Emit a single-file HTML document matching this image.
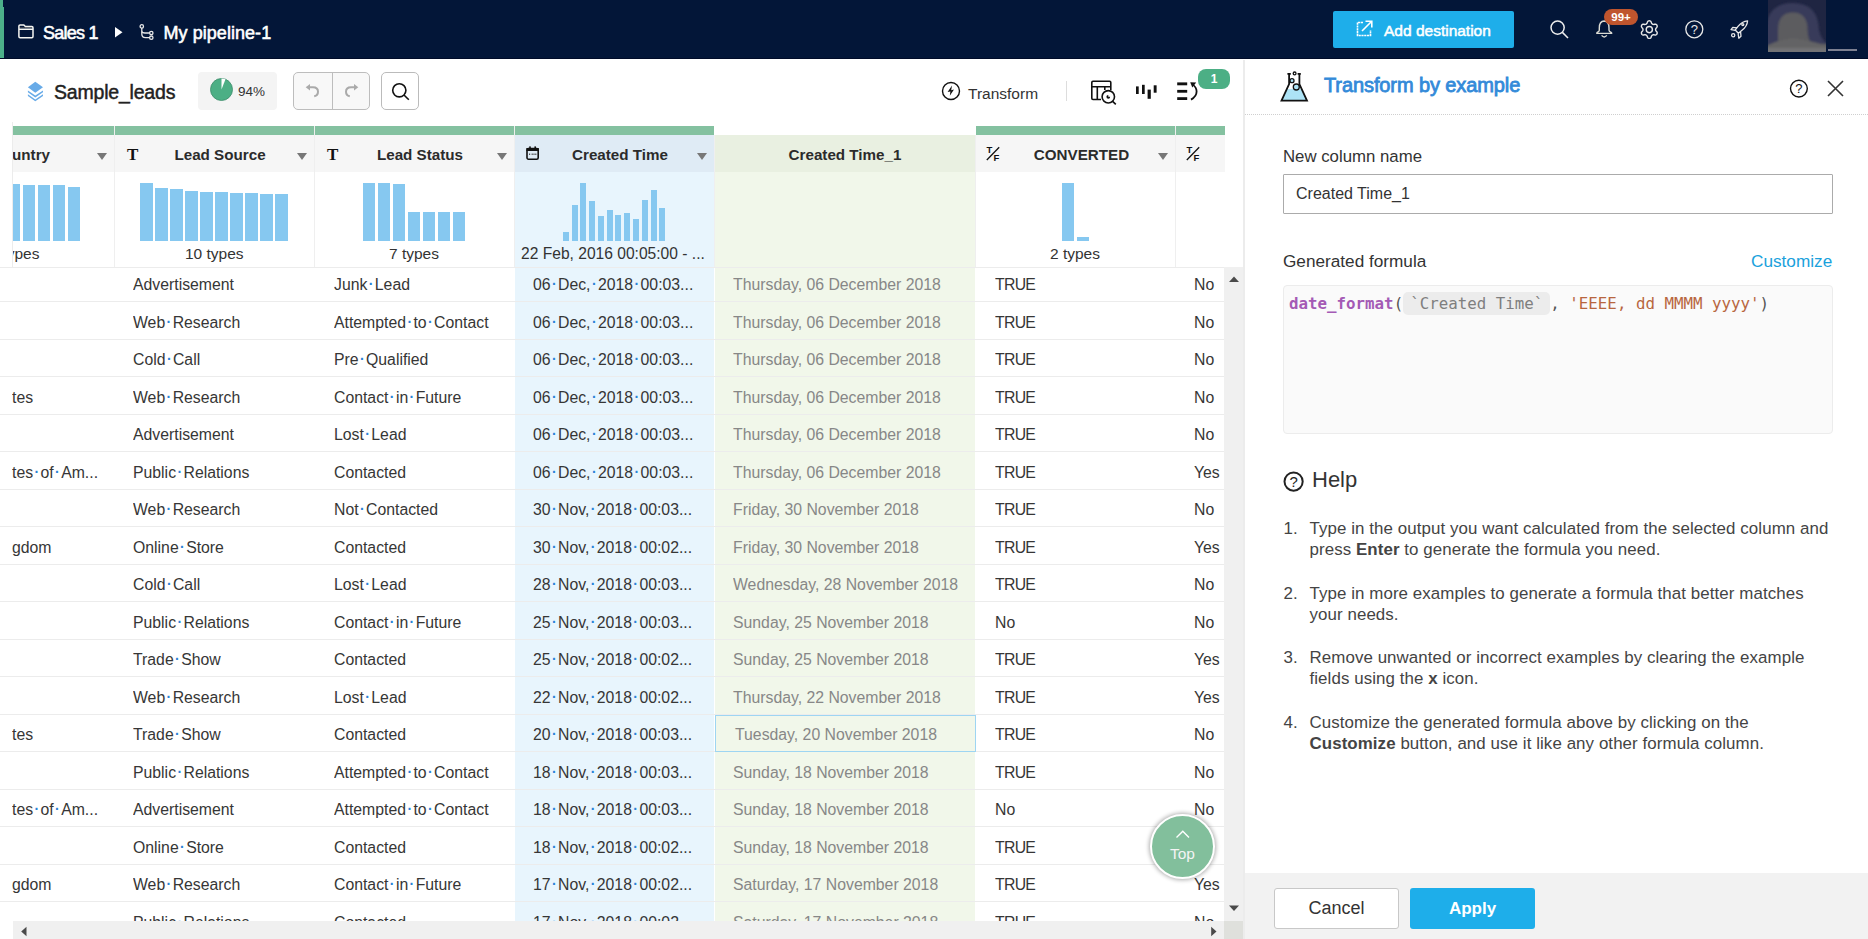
<!DOCTYPE html>
<html><head><meta charset="utf-8"><title>Transform by example</title>
<style>
*{box-sizing:border-box;margin:0;padding:0}
html,body{width:1868px;height:939px;overflow:hidden;background:#fff}
body{position:relative;font-family:"Liberation Sans",Arial,sans-serif;color:#333}
.abs{position:absolute}
svg{position:absolute;overflow:visible}
/* top bar */
#top{position:absolute;left:0;top:0;width:1868px;height:59px;background:#031638;border-bottom:1px solid #000b28}
#top .strip{position:absolute;left:0;top:0;width:4px;height:58px;background:#4cb08a}
#top .strip2{position:absolute;left:3px;top:0;width:1px;height:7px;background:#04163a}
.tt{position:absolute;color:#fff;font-weight:normal;-webkit-text-stroke:0.55px #fff;letter-spacing:-0.1px;font-size:18px;white-space:nowrap;line-height:20px}
#adddest{position:absolute;left:1333px;top:11px;width:181px;height:37px;background:#1eaeea;border-radius:2px}
#adddest span{position:absolute;left:51px;top:10.5px;font-size:15.5px;font-weight:normal;-webkit-text-stroke:0.5px #fff;color:#fff;line-height:18px;white-space:nowrap}
#badge99{position:absolute;left:1604px;top:9px;width:34px;height:16px;border-radius:8px;background:#bf552e;color:#fff;font-size:11.5px;font-weight:bold;text-align:center;line-height:16px}
#avline{position:absolute;left:1828px;top:49px;width:29px;height:2px;background:#7d8091}
/* toolbar */
.tbt{position:absolute;white-space:nowrap}
#title{left:54px;top:80px;letter-spacing:-0.2px;font-size:19.5px;font-weight:normal;-webkit-text-stroke:0.45px #222;color:#222;line-height:24px}
#prog{position:absolute;left:198px;top:72px;width:79px;height:38px;background:#f4f4f4;border-radius:4px}
#prog span{position:absolute;left:40px;top:12px;font-size:13.5px;color:#333;line-height:16px}
#undo{position:absolute;left:293px;top:72px;width:77px;height:38px;background:#f8f8f8;border:1px solid #bdbdbd;border-radius:5px}
#undo:after{content:"";position:absolute;left:38px;top:0;width:1px;height:36px;background:#bdbdbd}
#srch{position:absolute;left:381px;top:72px;width:38px;height:38px;background:#fff;border:1px solid #bbb;border-radius:5px}
#transform{left:968px;top:84.5px;font-size:15.5px;color:#333;line-height:18px}
#vdiv{position:absolute;left:1066px;top:81px;width:1px;height:20px;background:#ddd}
#badge1{position:absolute;left:1198px;top:69px;width:32px;height:20px;border-radius:8px;background:#4caf85;color:#fff;font-size:12px;font-weight:bold;text-align:center;line-height:20px}
/* table */
#grid{position:absolute;left:0;top:125px;width:1225px;height:814px;overflow:hidden}
.gbar{position:absolute;top:126px;height:9px;background:#84c1a0}
.hcell{position:absolute;top:135px;height:37px;background:#f6f6f6}
.hname{position:absolute;top:145px;text-align:center;font-size:15.2px;font-weight:bold;color:#2b2b2b;line-height:20px;white-space:nowrap}
.tri{position:absolute;top:153px;width:0;height:0;border-left:5.7px solid transparent;border-right:5.7px solid transparent;border-top:7.2px solid #777}
.hist{position:absolute;top:172px;height:95px;background:#fff}
.vsep{position:absolute;top:126px;width:1px;height:141px;background:#efefef}
.bar{position:absolute;background:#86c8f0}
.types{position:absolute;top:245px;font-size:15.5px;color:#333;line-height:18px;white-space:nowrap;text-align:center}
#body{position:absolute;left:0;top:267px;width:1224px;height:654px;overflow:hidden}
.row{position:absolute;left:0;width:1224px;height:37.5px;border-bottom:1px solid #ececec}
.c{position:absolute;top:0;height:37.5px;line-height:37.5px;padding-top:1.8px;font-size:15.8px;color:#363636;white-space:nowrap;overflow:hidden}
.c i.d{font-style:normal;color:#2a82d6;font-size:14px;font-weight:bold;position:relative;top:-1px;padding:0 1.4px}
.c b.t{font-weight:normal;letter-spacing:-0.7px}
.cA{left:12px;width:102px}
.cB{left:133px;width:181px}
.cC{left:334px;width:180px}
.cD{left:533px;width:181px}
.cE{left:733px;width:242px;color:#878787}
.cF{left:995px;width:180px}
.cG{left:1194px;width:30px}
.sel{left:715px;top:0;width:261px;border:1px solid #9ed5f2;padding-left:19px;line-height:35.5px;padding-top:1px}
</style></head>
<body>
<!-- ============ TOP BAR ============ -->
<div id="top">
  <div class="strip"></div><div class="strip2"></div>
  <svg style="left:18px;top:24.3px" width="16" height="15" viewBox="0 0 16 15"><path d="M1.5 4 H14.5 V3.4 H1.5 Z" fill="#555"/><path d="M0.9 2.1 Q0.9 0.9 2.1 0.9 H5.8 L7.4 2.5 H13.9 Q15 2.5 15 3.7 V12.6 Q15 13.8 13.8 13.8 H2.1 Q0.9 13.8 0.9 12.6 Z M0.9 5.2 H15" fill="none" stroke="#f6f6f2" stroke-width="1.5"/></svg>
  <div class="tt" style="left:43px;top:23px;letter-spacing:-0.75px">Sales 1</div>
  <svg style="left:115px;top:27px" width="8" height="11" viewBox="0 0 8 11"><path d="M0 0 L7.5 5.2 L0 10.5 Z" fill="#fff"/></svg>
  <svg style="left:138.5px;top:24px" width="15" height="16" viewBox="0 0 15 16"><g fill="none" stroke="#e8e8e8" stroke-width="1.3"><circle cx="2.8" cy="2.4" r="1.7"/><path d="M2.8 4.1 V10 Q2.8 13.7 6.5 13.7 H10.6"/><path d="M2.8 7.5 Q3.2 9 6 9 H10.6"/><circle cx="12.3" cy="9" r="1.7"/><circle cx="12.3" cy="13.7" r="1.7"/></g></svg>
  <div class="tt" style="left:163.5px;top:23px;letter-spacing:0.05px">My pipeline-1</div>

  <div id="adddest">
    <svg style="left:23px;top:9px" width="17" height="17" viewBox="0 0 17 17"><g fill="none" stroke="#fff" stroke-width="1.6"><path d="M7 2.5 H1.5 V15.5 H14.5 V10" stroke-dasharray="2.2 0.6"/><path d="M6 11 L15.5 1.5 M9.5 1.2 H15.8 V7.5"/></g></svg>
    <span>Add destination</span>
  </div>
  <svg style="left:1550px;top:20px" width="19" height="19" viewBox="0 0 19 19"><g fill="none" stroke="#eee" stroke-width="1.5"><circle cx="7.6" cy="7.6" r="6.6"/><path d="M12.4 12.4 L18 18"/></g></svg>
  <svg style="left:1596px;top:20px" width="17" height="19" viewBox="0 0 17 19"><g fill="none" stroke="#dcdcd4" stroke-width="1.4"><path d="M3.3 8 Q3.3 1.2 8.2 1 Q13 1.2 13 8 V10.2 Q13 11.3 15.1 12.4 Q16 13 15.6 13.4 H0.9 Q0.5 13 1.3 12.4 Q3.3 11.3 3.3 10.2 Z"/><path d="M5.6 15.4 Q8.2 18.5 10.8 15.4"/></g></svg>
  <div id="badge99">99+</div>
  <svg style="left:1640px;top:20px" width="19" height="19" viewBox="0 0 19 19"><g fill="none" stroke="#e8e8e8" stroke-width="1.4"><path d="M9.30 0.80 L9.87 0.88 L10.42 1.11 L10.91 1.51 L11.25 2.31 L11.50 3.12 L11.80 3.56 L12.11 3.90 L12.45 4.14 L12.83 4.31 L13.28 4.42 L13.81 4.45 L14.64 4.26 L15.50 4.16 L16.10 4.39 L16.57 4.74 L16.92 5.20 L17.14 5.73 L17.21 6.32 L17.11 6.95 L16.59 7.65 L16.02 8.26 L15.78 8.75 L15.64 9.18 L15.60 9.60 L15.64 10.02 L15.78 10.45 L16.02 10.94 L16.59 11.55 L17.11 12.25 L17.21 12.88 L17.14 13.47 L16.92 14.00 L16.57 14.46 L16.10 14.81 L15.50 15.04 L14.64 14.94 L13.81 14.75 L13.28 14.78 L12.83 14.89 L12.45 15.06 L12.11 15.30 L11.80 15.64 L11.50 16.08 L11.25 16.89 L10.91 17.69 L10.42 18.09 L9.87 18.32 L9.30 18.40 L8.73 18.32 L8.18 18.09 L7.69 17.69 L7.35 16.89 L7.10 16.08 L6.80 15.64 L6.49 15.30 L6.15 15.06 L5.77 14.89 L5.32 14.78 L4.79 14.75 L3.96 14.94 L3.10 15.04 L2.50 14.81 L2.03 14.46 L1.68 14.00 L1.46 13.47 L1.39 12.88 L1.49 12.25 L2.01 11.55 L2.58 10.94 L2.82 10.45 L2.96 10.02 L3.00 9.60 L2.96 9.18 L2.82 8.75 L2.58 8.26 L2.01 7.65 L1.49 6.95 L1.39 6.32 L1.46 5.73 L1.68 5.20 L2.03 4.74 L2.50 4.39 L3.10 4.16 L3.96 4.26 L4.79 4.45 L5.32 4.42 L5.77 4.31 L6.15 4.14 L6.49 3.90 L6.80 3.56 L7.10 3.12 L7.35 2.31 L7.69 1.51 L8.18 1.11 L8.73 0.88 Z" stroke-linejoin="round"/><circle cx="9.3" cy="9.6" r="3.1"/></g></svg>
  <svg style="left:1685px;top:20px" width="19" height="19" viewBox="0 0 19 19"><circle cx="9.3" cy="9.3" r="8.5" fill="none" stroke="#e8e8e8" stroke-width="1.3"/><text x="9.3" y="14" text-anchor="middle" font-family="Liberation Sans" font-size="13" fill="#e8e8e8">?</text></svg>
  <svg style="left:1730px;top:20px" width="19" height="19" viewBox="0 0 19 19"><g fill="none" stroke="#e8e8e8" stroke-width="1.3" stroke-linejoin="round"><path d="M17.6 0.8 Q12 1.2 8 6.4 L5.2 10 L8.4 13.3 L12 10.3 Q17.2 6.4 17.6 0.8 Z"/><path d="M7 7.8 L2.8 7.4 L1 9.6 L5.4 10.4"/><path d="M10.6 12 L11 16.3 L8.8 18.2 L8.1 13.6"/><circle cx="12.8" cy="4.6" r="1"/><circle cx="3.2" cy="15.2" r="1.6"/></g></svg>
  <svg style="left:1768px;top:0" width="58" height="52" viewBox="0 0 58 52"><defs><filter id="bl" x="-10%" y="-10%" width="120%" height="120%"><feGaussianBlur stdDeviation="1.2"/></filter><clipPath id="avc"><rect width="58" height="52"/></clipPath></defs><rect width="58" height="52" fill="#1f2542"/><g clip-path="url(#avc)" filter="url(#bl)"><path d="M-2 54 V30 Q-1 3 24.8 3 Q50 3 51 30 Q53 40 60 44 V54 Z" fill="#393b5a"/><path d="M10 54 V30 Q10 12.5 24.8 12.5 Q39.6 12.5 39.6 30 Q40 40 44 44 H60 V54 Z" fill="#5b5b5f"/><path d="M-2 54 V46 Q10 40 24.8 38 Q40 40 60 46 V54 Z" fill="#636365"/><rect x="-2" y="48" width="62" height="6" fill="#727274"/></g></svg>
  <div id="avline"></div>
</div>

<!-- ============ TOOLBAR ============ -->
<svg style="left:27px;top:81px" width="17" height="21" viewBox="0 0 17 21"><g fill="#68abe8"><path d="M8.3 0.7 L16 6.3 L8.3 11.8 L0.9 6.3 Z"/><path d="M0.9 9.4 L8.3 14.6 L16 9.4 L16 11.2 L8.3 16.4 L0.9 11.2 Z"/><path d="M0.9 13.3 L8.3 18.5 L16 13.3 L16 15.1 L8.3 20.3 L0.9 15.1 Z"/></g></svg>
<div class="tbt" id="title">Sample_leads</div>
<div id="prog">
  <svg style="left:12px;top:6px" width="23" height="23" viewBox="0 0 23 23"><circle cx="11.5" cy="11.5" r="11" fill="#4caf85" stroke="#3d8d6b" stroke-width="0.8"/><path d="M11.5 11.5 L11.5 0.5 A11 11 0 0 1 15.5 1.25 Z" fill="#fff"/></svg>
  <span>94%</span>
</div>
<div id="undo">
  <svg style="left:11px;top:11px" width="16" height="14" viewBox="0 0 16 14"><g fill="none" stroke="#aaa" stroke-width="2"><path d="M3.5 3.2 H8 Q13 3.2 13 7.7 Q13 11.4 9.2 12.3"/></g><path d="M0.7 3.2 L5 0 L5 6.4 Z" fill="#aaa"/></svg>
  <svg style="left:49px;top:11px" width="16" height="14" viewBox="0 0 16 14"><g fill="none" stroke="#aaa" stroke-width="2"><path d="M12.5 3.2 H8 Q3 3.2 3 7.7 Q3 11.4 6.8 12.3"/></g><path d="M15.3 3.2 L11 0 L11 6.4 Z" fill="#aaa"/></svg>
</div>
<div id="srch">
  <svg style="left:9px;top:9px" width="19" height="19" viewBox="0 0 19 19"><g fill="none" stroke="#111" stroke-width="1.6"><circle cx="8.3" cy="8.3" r="6.6"/><path d="M13 13 L17.8 17.8"/></g></svg>
</div>
<svg style="left:941px;top:81px" width="20" height="20" viewBox="0 0 20 20"><circle cx="10" cy="10" r="8.5" fill="none" stroke="#111" stroke-width="1.4"/><path d="M11 4.6 L6.6 11 L9.4 10.4 L8.8 14.8 L13 8.6 L10.2 9.2 Z" fill="#111"/></svg>
<div class="tbt" id="transform">Transform</div>
<div id="vdiv"></div>
<svg style="left:1090px;top:80px" width="28" height="26" viewBox="0 0 28 26"><g fill="none" stroke="#111" stroke-width="1.6"><path d="M11 19.5 H3 Q1.8 19.5 1.8 18.3 V2.4 Q1.8 1.2 3 1.2 H19.6 Q20.8 1.2 20.8 2.4 V10"/><path d="M1.8 6.7 H20.8 M7.3 6.7 V19.5 M14.8 6.7 V10"/><circle cx="18.3" cy="16.8" r="6.2"/><path d="M22.6 21.3 L25.8 24.3"/></g><path d="M18.3 14.9 A1.9 1.9 0 1 0 20.2 16.8 L18.3 16.8 Z" fill="#111"/></svg>
<svg style="left:1135px;top:84px" width="23" height="16" viewBox="0 0 23 16"><g fill="#111"><rect x="1" y="2.4" width="2.7" height="7.6"/><rect x="7" y="0.8" width="2.7" height="9.2"/><rect x="12.6" y="5.6" width="3.2" height="9.2"/><rect x="18.7" y="1.3" width="2.9" height="7.4"/></g></svg>
<svg style="left:1176px;top:81px" width="23" height="21" viewBox="0 0 23 21"><g fill="#111"><rect x="1.2" y="1.4" width="10" height="2.9"/><rect x="1.2" y="8.9" width="10" height="2.8"/><rect x="1.2" y="16.2" width="10" height="2.8"/></g><path d="M15 18.6 Q20.6 15.4 20.6 10.5 Q20.6 6.4 16.8 3.6" fill="none" stroke="#111" stroke-width="1.8"/><path d="M14.2 1.2 L20.2 1.5 L16.3 6.6 Z" fill="#111"/></svg>
<div id="badge1">1</div>

<!-- ============ GRID HEADER ============ -->
<div style="position:absolute;left:12px;top:122px;width:1px;height:145px;background:#ececec"></div>
<div class="gbar" style="left:13px;width:101px"></div>
<div class="gbar" style="left:115px;width:199px"></div>
<div class="gbar" style="left:315px;width:199px"></div>
<div class="gbar" style="left:515px;width:199px"></div>
<div class="gbar" style="left:976px;width:199px"></div>
<div class="gbar" style="left:1176px;width:49px"></div>

<div class="hcell" style="left:13px;width:101px"></div>
<div class="hcell" style="left:115px;width:199px"></div>
<div class="hcell" style="left:315px;width:199px"></div>
<div class="hcell" style="left:515px;width:199px;background:#dfebf5"></div>
<div class="hcell" style="left:715px;width:260px;background:#e9f0e1"></div>
<div class="hcell" style="left:976px;width:199px"></div>
<div class="hcell" style="left:1176px;width:49px"></div>

<div class="hist" style="left:13px;width:101px"></div>
<div class="hist" style="left:115px;width:199px"></div>
<div class="hist" style="left:315px;width:199px"></div>
<div class="hist" style="left:515px;width:199px;background:#e8f5fd"></div>
<div class="hist" style="left:715px;width:260px;background:#f1f7ea"></div>
<div class="hist" style="left:976px;width:199px"></div>
<div class="hist" style="left:1176px;width:49px"></div>

<div class="vsep" style="left:114px"></div>
<div class="vsep" style="left:314px"></div>
<div class="vsep" style="left:514px"></div>
<div class="vsep" style="left:714px;top:135px;height:132px"></div>
<div class="vsep" style="left:975px;top:135px;height:132px"></div>
<div class="vsep" style="left:1175px"></div>
<div style="position:absolute;left:0;top:267px;width:1224px;height:1px;background:#ececec"></div>

<div style="position:absolute;left:13px;top:135px;width:101px;height:132px;overflow:hidden">
  <div class="hname" style="right:64px;top:10px;text-align:right">Country</div>
  <div class="types" style="right:74.5px;top:110px;text-align:right">6 types</div>
  <div class="bar" style="left:-5px;top:49.2px;width:12px;height:56.5px"></div>
  <div class="bar" style="left:10px;top:50.2px;width:12px;height:55.5px"></div>
  <div class="bar" style="left:25px;top:50.2px;width:12px;height:55.5px"></div>
  <div class="bar" style="left:40px;top:50.2px;width:12px;height:55.5px"></div>
  <div class="bar" style="left:55px;top:52.1px;width:12px;height:53.6px"></div>
</div>
<div class="tri" style="left:97px"></div>

<svg style="left:127px;top:148px" width="12" height="13" viewBox="0 0 12 13"><text x="0" y="12" font-family="Liberation Serif" font-weight="bold" font-size="17" fill="#111">T</text></svg>
<div class="hname" style="left:120px;width:200px">Lead Source</div>
<div class="tri" style="left:297px"></div>
<svg style="left:327px;top:148px" width="12" height="13" viewBox="0 0 12 13"><text x="0" y="12" font-family="Liberation Serif" font-weight="bold" font-size="17" fill="#111">T</text></svg>
<div class="hname" style="left:320px;width:200px">Lead Status</div>
<div class="tri" style="left:497px"></div>
<svg style="left:526px;top:146px" width="14" height="15" viewBox="0 0 14 15"><g fill="none" stroke="#111"><rect x="1" y="2.6" width="11.2" height="10.6" rx="1.4" stroke-width="1.6"/></g><rect x="0.4" y="2" width="12.4" height="3" fill="#111"/><rect x="3.2" y="0.4" width="1.6" height="3" fill="#111"/><rect x="8.4" y="0.4" width="1.6" height="3" fill="#111"/><g fill="#333"><rect x="3" y="7.6" width="1.2" height="1.2"/><rect x="5.6" y="7.6" width="1.2" height="1.2"/><rect x="7.4" y="7.6" width="1.2" height="1.2"/><rect x="9.2" y="7.6" width="1.2" height="1.2"/></g></svg>
<div class="hname" style="left:520px;width:200px">Created Time</div>
<div class="tri" style="left:697px"></div>
<div class="hname" style="left:715px;width:260px">Created Time_1</div>
<svg style="left:986px;top:146px" width="16" height="16" viewBox="0 0 16 16"><g fill="#111"><text x="0.6" y="7.4" font-family="Liberation Sans" font-weight="bold" font-size="9.5">T</text><text x="7.6" y="14.6" font-family="Liberation Sans" font-weight="bold" font-size="9.5">F</text></g><path d="M0.8 14 L13.2 1.2" stroke="#111" stroke-width="1.3"/></svg>
<div class="hname" style="left:981.5px;width:200px">CONVERTED</div>
<div class="tri" style="left:1158px"></div>
<svg style="left:1186px;top:146px" width="16" height="16" viewBox="0 0 16 16"><g fill="#111"><text x="0.6" y="7.4" font-family="Liberation Sans" font-weight="bold" font-size="9.5">T</text><text x="7.6" y="14.6" font-family="Liberation Sans" font-weight="bold" font-size="9.5">F</text></g><path d="M0.8 14 L13.2 1.2" stroke="#111" stroke-width="1.3"/></svg>

<div class="bar" style="left:140px;top:183.2px;width:12.5px;height:57.5px"></div><div class="bar" style="left:155px;top:188px;width:12.5px;height:52.69999999999999px"></div><div class="bar" style="left:170px;top:189px;width:12.5px;height:51.69999999999999px"></div><div class="bar" style="left:185px;top:191px;width:12.5px;height:49.69999999999999px"></div><div class="bar" style="left:200px;top:192px;width:12.5px;height:48.69999999999999px"></div><div class="bar" style="left:215px;top:192px;width:12.5px;height:48.69999999999999px"></div><div class="bar" style="left:230px;top:193px;width:12.5px;height:47.69999999999999px"></div><div class="bar" style="left:245px;top:193px;width:12.5px;height:47.69999999999999px"></div><div class="bar" style="left:260px;top:194px;width:12.5px;height:46.69999999999999px"></div><div class="bar" style="left:275px;top:194px;width:12.5px;height:46.69999999999999px"></div><div class="bar" style="left:363.3px;top:183.2px;width:12px;height:57.5px"></div><div class="bar" style="left:378.3px;top:183.2px;width:12px;height:57.5px"></div><div class="bar" style="left:393.3px;top:184px;width:12px;height:56.69999999999999px"></div><div class="bar" style="left:408.3px;top:211.9px;width:12px;height:28.799999999999983px"></div><div class="bar" style="left:423.3px;top:211.9px;width:12px;height:28.799999999999983px"></div><div class="bar" style="left:438.3px;top:211.9px;width:12px;height:28.799999999999983px"></div><div class="bar" style="left:453.3px;top:211.9px;width:12px;height:28.799999999999983px"></div><div class="bar" style="left:563px;top:232px;width:6px;height:8.699999999999989px"></div><div class="bar" style="left:571.9px;top:204.7px;width:6px;height:36.0px"></div><div class="bar" style="left:580.4px;top:183px;width:6px;height:57.69999999999999px"></div><div class="bar" style="left:589px;top:201px;width:6px;height:39.69999999999999px"></div><div class="bar" style="left:597.9px;top:216px;width:6px;height:24.69999999999999px"></div><div class="bar" style="left:606.8px;top:210px;width:6px;height:30.69999999999999px"></div><div class="bar" style="left:615.4px;top:215px;width:6px;height:25.69999999999999px"></div><div class="bar" style="left:624px;top:212.9px;width:6px;height:27.799999999999983px"></div><div class="bar" style="left:633px;top:218.9px;width:6px;height:21.799999999999983px"></div><div class="bar" style="left:642px;top:199.7px;width:6px;height:41.0px"></div><div class="bar" style="left:650.6px;top:189.8px;width:6px;height:50.89999999999998px"></div><div class="bar" style="left:659px;top:207.9px;width:6px;height:32.79999999999998px"></div><div class="bar" style="left:1062px;top:183px;width:12px;height:57.7px"></div><div class="bar" style="left:1077px;top:237px;width:12px;height:3.7px"></div>
<div class="types" style="left:185px">10 types</div>
<div class="types" style="left:389px">7 types</div>
<div class="types" style="left:521px;font-size:15.6px">22 Feb, 2016 00:05:00 - ...</div>
<div class="types" style="left:1050px">2 types</div>

<!-- ============ GRID BODY ============ -->
<div style="position:absolute;left:515px;top:268px;width:199px;height:653px;background:#e8f5fd"></div>
<div style="position:absolute;left:715px;top:268px;width:260px;height:653px;background:#f1f7ea"></div>
<div id="body"><div style="position:absolute;left:0;top:-267px;width:1224px;height:1200px">
<div class="row" style="top:264.5px">
<div class="c cA"></div>
<div class="c cB">Advertisement</div>
<div class="c cC">Junk<i class="d">·</i>Lead</div>
<div class="c cD">06<i class="d">·</i>Dec,<i class="d">·</i>2018<i class="d">·</i>00:03...</div>
<div class="c cE">Thursday, 06 December 2018</div>
<div class="c cF"><b class=t>TRUE</b></div>
<div class="c cG">No</div>
</div>
<div class="row" style="top:302.0px">
<div class="c cA"></div>
<div class="c cB">Web<i class="d">·</i>Research</div>
<div class="c cC">Attempted<i class="d">·</i>to<i class="d">·</i>Contact</div>
<div class="c cD">06<i class="d">·</i>Dec,<i class="d">·</i>2018<i class="d">·</i>00:03...</div>
<div class="c cE">Thursday, 06 December 2018</div>
<div class="c cF"><b class=t>TRUE</b></div>
<div class="c cG">No</div>
</div>
<div class="row" style="top:339.5px">
<div class="c cA"></div>
<div class="c cB">Cold<i class="d">·</i>Call</div>
<div class="c cC">Pre<i class="d">·</i>Qualified</div>
<div class="c cD">06<i class="d">·</i>Dec,<i class="d">·</i>2018<i class="d">·</i>00:03...</div>
<div class="c cE">Thursday, 06 December 2018</div>
<div class="c cF"><b class=t>TRUE</b></div>
<div class="c cG">No</div>
</div>
<div class="row" style="top:377.0px">
<div class="c cA">tes</div>
<div class="c cB">Web<i class="d">·</i>Research</div>
<div class="c cC">Contact<i class="d">·</i>in<i class="d">·</i>Future</div>
<div class="c cD">06<i class="d">·</i>Dec,<i class="d">·</i>2018<i class="d">·</i>00:03...</div>
<div class="c cE">Thursday, 06 December 2018</div>
<div class="c cF"><b class=t>TRUE</b></div>
<div class="c cG">No</div>
</div>
<div class="row" style="top:414.5px">
<div class="c cA"></div>
<div class="c cB">Advertisement</div>
<div class="c cC">Lost<i class="d">·</i>Lead</div>
<div class="c cD">06<i class="d">·</i>Dec,<i class="d">·</i>2018<i class="d">·</i>00:03...</div>
<div class="c cE">Thursday, 06 December 2018</div>
<div class="c cF"><b class=t>TRUE</b></div>
<div class="c cG">No</div>
</div>
<div class="row" style="top:452.0px">
<div class="c cA">tes<i class="d">·</i>of<i class="d">·</i>Am...</div>
<div class="c cB">Public<i class="d">·</i>Relations</div>
<div class="c cC">Contacted</div>
<div class="c cD">06<i class="d">·</i>Dec,<i class="d">·</i>2018<i class="d">·</i>00:03...</div>
<div class="c cE">Thursday, 06 December 2018</div>
<div class="c cF"><b class=t>TRUE</b></div>
<div class="c cG">Yes</div>
</div>
<div class="row" style="top:489.5px">
<div class="c cA"></div>
<div class="c cB">Web<i class="d">·</i>Research</div>
<div class="c cC">Not<i class="d">·</i>Contacted</div>
<div class="c cD">30<i class="d">·</i>Nov,<i class="d">·</i>2018<i class="d">·</i>00:03...</div>
<div class="c cE">Friday, 30 November 2018</div>
<div class="c cF"><b class=t>TRUE</b></div>
<div class="c cG">No</div>
</div>
<div class="row" style="top:527.0px">
<div class="c cA">gdom</div>
<div class="c cB">Online<i class="d">·</i>Store</div>
<div class="c cC">Contacted</div>
<div class="c cD">30<i class="d">·</i>Nov,<i class="d">·</i>2018<i class="d">·</i>00:02...</div>
<div class="c cE">Friday, 30 November 2018</div>
<div class="c cF"><b class=t>TRUE</b></div>
<div class="c cG">Yes</div>
</div>
<div class="row" style="top:564.5px">
<div class="c cA"></div>
<div class="c cB">Cold<i class="d">·</i>Call</div>
<div class="c cC">Lost<i class="d">·</i>Lead</div>
<div class="c cD">28<i class="d">·</i>Nov,<i class="d">·</i>2018<i class="d">·</i>00:03...</div>
<div class="c cE">Wednesday, 28 November 2018</div>
<div class="c cF"><b class=t>TRUE</b></div>
<div class="c cG">No</div>
</div>
<div class="row" style="top:602.0px">
<div class="c cA"></div>
<div class="c cB">Public<i class="d">·</i>Relations</div>
<div class="c cC">Contact<i class="d">·</i>in<i class="d">·</i>Future</div>
<div class="c cD">25<i class="d">·</i>Nov,<i class="d">·</i>2018<i class="d">·</i>00:03...</div>
<div class="c cE">Sunday, 25 November 2018</div>
<div class="c cF">No</div>
<div class="c cG">No</div>
</div>
<div class="row" style="top:639.5px">
<div class="c cA"></div>
<div class="c cB">Trade<i class="d">·</i>Show</div>
<div class="c cC">Contacted</div>
<div class="c cD">25<i class="d">·</i>Nov,<i class="d">·</i>2018<i class="d">·</i>00:02...</div>
<div class="c cE">Sunday, 25 November 2018</div>
<div class="c cF"><b class=t>TRUE</b></div>
<div class="c cG">Yes</div>
</div>
<div class="row" style="top:677.0px">
<div class="c cA"></div>
<div class="c cB">Web<i class="d">·</i>Research</div>
<div class="c cC">Lost<i class="d">·</i>Lead</div>
<div class="c cD">22<i class="d">·</i>Nov,<i class="d">·</i>2018<i class="d">·</i>00:02...</div>
<div class="c cE">Thursday, 22 November 2018</div>
<div class="c cF"><b class=t>TRUE</b></div>
<div class="c cG">Yes</div>
</div>
<div class="row" style="top:714.5px">
<div class="c cA">tes</div>
<div class="c cB">Trade<i class="d">·</i>Show</div>
<div class="c cC">Contacted</div>
<div class="c cD">20<i class="d">·</i>Nov,<i class="d">·</i>2018<i class="d">·</i>00:03...</div>
<div class="c cE sel">Tuesday, 20 November 2018</div>
<div class="c cF"><b class=t>TRUE</b></div>
<div class="c cG">No</div>
</div>
<div class="row" style="top:752.0px">
<div class="c cA"></div>
<div class="c cB">Public<i class="d">·</i>Relations</div>
<div class="c cC">Attempted<i class="d">·</i>to<i class="d">·</i>Contact</div>
<div class="c cD">18<i class="d">·</i>Nov,<i class="d">·</i>2018<i class="d">·</i>00:03...</div>
<div class="c cE">Sunday, 18 November 2018</div>
<div class="c cF"><b class=t>TRUE</b></div>
<div class="c cG">No</div>
</div>
<div class="row" style="top:789.5px">
<div class="c cA">tes<i class="d">·</i>of<i class="d">·</i>Am...</div>
<div class="c cB">Advertisement</div>
<div class="c cC">Attempted<i class="d">·</i>to<i class="d">·</i>Contact</div>
<div class="c cD">18<i class="d">·</i>Nov,<i class="d">·</i>2018<i class="d">·</i>00:03...</div>
<div class="c cE">Sunday, 18 November 2018</div>
<div class="c cF">No</div>
<div class="c cG">No</div>
</div>
<div class="row" style="top:827.0px">
<div class="c cA"></div>
<div class="c cB">Online<i class="d">·</i>Store</div>
<div class="c cC">Contacted</div>
<div class="c cD">18<i class="d">·</i>Nov,<i class="d">·</i>2018<i class="d">·</i>00:02...</div>
<div class="c cE">Sunday, 18 November 2018</div>
<div class="c cF"><b class=t>TRUE</b></div>
<div class="c cG">No</div>
</div>
<div class="row" style="top:864.5px">
<div class="c cA">gdom</div>
<div class="c cB">Web<i class="d">·</i>Research</div>
<div class="c cC">Contact<i class="d">·</i>in<i class="d">·</i>Future</div>
<div class="c cD">17<i class="d">·</i>Nov,<i class="d">·</i>2018<i class="d">·</i>00:02...</div>
<div class="c cE">Saturday, 17 November 2018</div>
<div class="c cF"><b class=t>TRUE</b></div>
<div class="c cG">Yes</div>
</div>
<div class="row" style="top:902.0px">
<div class="c cA"></div>
<div class="c cB">Public<i class="d">·</i>Relations</div>
<div class="c cC">Contacted</div>
<div class="c cD">17<i class="d">·</i>Nov,<i class="d">·</i>2018<i class="d">·</i>00:02...</div>
<div class="c cE">Saturday, 17 November 2018</div>
<div class="c cF"><b class=t>TRUE</b></div>
<div class="c cG">No</div>
</div>
</div></div>

<!-- scrollbars -->
<div style="position:absolute;left:1224px;top:267px;width:20px;height:654px;background:#f0f0f0"></div>
<svg style="left:1228px;top:275px" width="12" height="8" viewBox="0 0 12 8"><path d="M1 7 L6 1.5 L11 7 Z" fill="#4a4a4a"/></svg>
<svg style="left:1228px;top:904px" width="12" height="8" viewBox="0 0 12 8"><path d="M1 1.5 L6 7 L11 1.5 Z" fill="#4a4a4a"/></svg>
<div style="position:absolute;left:13px;top:921px;width:1211px;height:18px;background:#f0f0f0"></div>
<div style="position:absolute;left:1224px;top:921px;width:20px;height:18px;background:#dfe0dc"></div>
<svg style="left:20px;top:926px" width="8" height="11" viewBox="0 0 8 11"><path d="M6.5 0.8 L1.2 5.5 L6.5 10.2 Z" fill="#4a4a4a"/></svg>
<svg style="left:1210px;top:926px" width="8" height="11" viewBox="0 0 8 11"><path d="M1.2 0.8 L6.5 5.5 L1.2 10.2 Z" fill="#4a4a4a"/></svg>

<!-- Top button -->
<div style="position:absolute;left:1150px;top:813.8px;width:65px;height:65px;border-radius:50%;background:#82bf9c;border:2px solid #fff;box-shadow:0 0 4px 1px rgba(0,0,0,0.32)"></div>
<svg style="left:1175px;top:829px" width="16" height="10" viewBox="0 0 16 10"><path d="M1.5 8.5 L7.8 2.3 L14 8.5" fill="none" stroke="#fff" stroke-width="1.4"/></svg>
<div style="position:absolute;left:1170px;top:845px;font-size:15.5px;color:#f4f4f4;line-height:18px">Top</div>

<!-- ============ RIGHT PANEL ============ -->
<div id="panel" style="position:absolute;left:1243px;top:59px;width:625px;height:880px;background:#fff">
  <div style="position:absolute;left:0;top:1px;width:2px;height:879px;background:#ececec"></div>
  <svg style="left:36px;top:12px" width="31" height="32" viewBox="0 0 31 32"><path d="M7.67 18.3 Q15 17.2 22.83 18.3 L28 29.6 H2.5 Z" fill="#ade3f6"/><g fill="none" stroke="#111" stroke-width="1.8" stroke-linejoin="miter"><path d="M8.4 2.9 H11.8 M18.6 2.9 H21.8"/><path d="M10.1 2.9 V13 L2.5 29.6 H28 L20.4 13 V2.9"/></g><g fill="#ade3f6" stroke="#111" stroke-width="1.3"><circle cx="15.6" cy="2.4" r="1.4" fill="none"/><circle cx="13" cy="9.7" r="2"/><circle cx="17.3" cy="16" r="3"/></g></svg>
  <div style="position:absolute;left:81px;top:13.6px;font-size:20px;font-weight:normal;-webkit-text-stroke:0.8px #338ad9;color:#338ad9;line-height:24px;white-space:nowrap;letter-spacing:-0.1px">Transform by example</div>
  <svg style="left:546px;top:20px" width="20" height="20" viewBox="0 0 20 20"><circle cx="9.9" cy="9.6" r="8.4" fill="none" stroke="#111" stroke-width="1.4"/><text x="9.9" y="14.2" text-anchor="middle" font-family="Liberation Sans" font-size="13" fill="#111">?</text></svg>
  <svg style="left:584px;top:21px" width="17" height="17" viewBox="0 0 17 17"><path d="M1 1 L16 16 M16 1 L1 16" stroke="#333" stroke-width="1.6" fill="none"/></svg>
  <div style="position:absolute;left:2px;top:55px;width:623px;height:0;border-top:1px dotted #cfcfcf"></div>

  <div style="position:absolute;left:40px;top:87px;font-size:16.8px;color:#333;line-height:22px;white-space:nowrap">New column name</div>
  <div style="position:absolute;left:40px;top:115px;width:550px;height:40px;border:1px solid #ababab;border-radius:1px;background:#fff"></div>
  <div style="position:absolute;left:53px;top:125px;font-size:16px;color:#333;line-height:20px;white-space:nowrap">Created Time_1</div>

  <div style="position:absolute;left:40px;top:191px;font-size:17.2px;color:#333;line-height:22px;white-space:nowrap">Generated formula</div>
  <div style="position:absolute;left:508px;top:191px;font-size:17.2px;color:#1aa1dc;line-height:22px;white-space:nowrap">Customize</div>
  <div style="position:absolute;left:40px;top:226px;width:550px;height:149px;border:1px solid #ececec;border-radius:4px;background:#fafafa"></div>
  <div style="position:absolute;left:46px;top:233px;font-family:'DejaVu Sans Mono','Liberation Mono',monospace;font-size:15.8px;line-height:24px;white-space:pre;color:#555"><b style="color:#a45ab5;font-weight:bold">date_format</b>(<span style="background:#ececec;border-radius:5px;padding:2px 7px;color:#7f7f7f">`Created Time`</span>, <span style="color:#b8663f">'EEEE, dd MMMM yyyy'</span>)</div>

  <svg style="left:40px;top:412px" width="22" height="22" viewBox="0 0 22 22"><circle cx="10.6" cy="10.6" r="9.1" fill="none" stroke="#222" stroke-width="2"/><text x="10.6" y="15.9" text-anchor="middle" font-family="Liberation Sans" font-size="15" fill="#222">?</text></svg>
  <div style="position:absolute;left:69px;top:408px;font-size:22px;color:#333;line-height:26px;white-space:nowrap">Help</div>

  <div id="help" style="position:absolute;left:40.5px;top:459px;letter-spacing:0.08px;font-size:16.9px;color:#444;line-height:21px;white-space:nowrap">
    <div style="position:absolute;left:0;top:0">1.</div><div style="position:absolute;left:26px;top:0">Type in the output you want calculated from the selected column and<br>press <b>Enter</b> to generate the formula you need.</div>
    <div style="position:absolute;left:0;top:65px">2.</div><div style="position:absolute;left:26px;top:65px">Type in more examples to generate a formula that better matches<br>your needs.</div>
    <div style="position:absolute;left:0;top:129px">3.</div><div style="position:absolute;left:26px;top:129px">Remove unwanted or incorrect examples by clearing the example<br>fields using the <b>x</b> icon.</div>
    <div style="position:absolute;left:0;top:194px">4.</div><div style="position:absolute;left:26px;top:194px">Customize the generated formula above by clicking on the<br><b>Customize</b> button, and use it like any other formula column.</div>
  </div>

  <div style="position:absolute;left:2px;top:814px;width:623px;height:66px;background:#f2f2f2"></div>
  <div style="position:absolute;left:31px;top:829px;width:125px;height:41px;background:#fff;border:1px solid #c8c8c8;border-radius:3px"></div>
  <div style="position:absolute;left:31px;top:839px;width:125px;text-align:center;font-size:18px;color:#333;line-height:21px">Cancel</div>
  <div style="position:absolute;left:167px;top:829px;width:125px;height:41px;background:#1eaeea;border-radius:3px"></div>
  <div style="position:absolute;left:167px;top:839px;width:125px;text-align:center;font-size:17px;font-weight:bold;color:#fff;line-height:21px">Apply</div>
</div>

</body></html>
